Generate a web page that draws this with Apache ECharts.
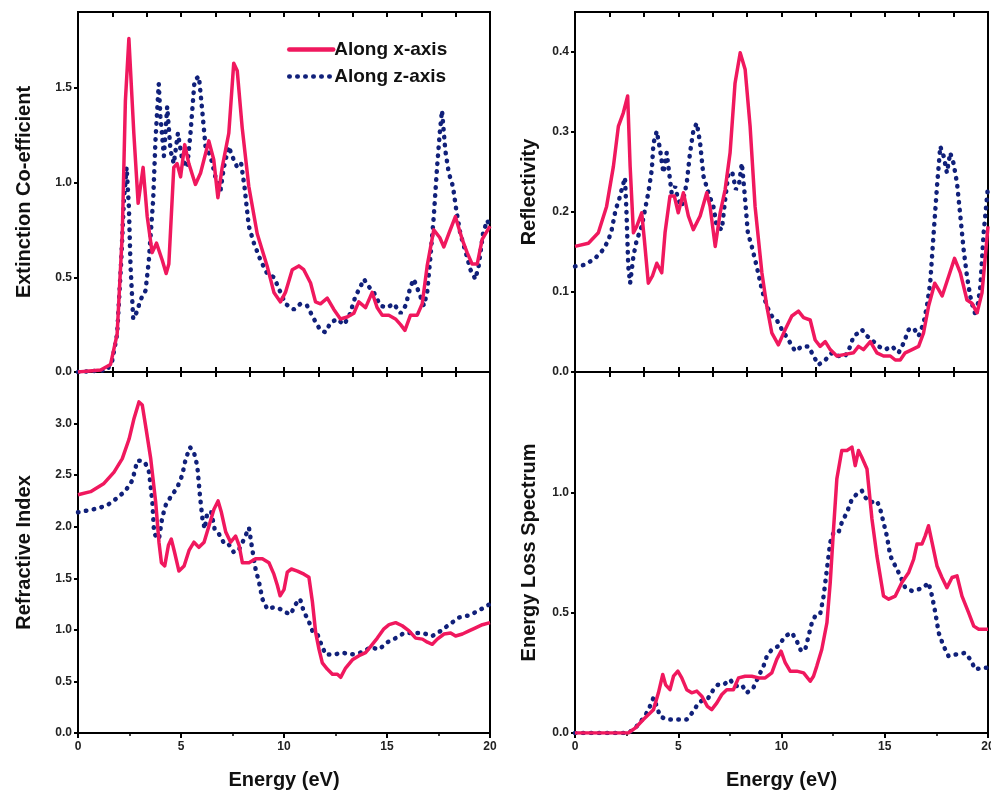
<!DOCTYPE html>
<html>
<head>
<meta charset="utf-8">
<script src="https://cdn.jsdelivr.net/npm/echarts@6/dist/echarts.min.js"></script>
<style>
  html, body { margin: 0; padding: 0; background: #fff; }
  #chart { width: 991px; height: 794px; }
</style>
</head>
<body>
<div id="chart"></div>
<script>
var chart = echarts.init(document.getElementById('chart'));
var option;

// Extinction co-efficient [energy eV, value]
const extX = [[0,0],[1.1,0.01],[1.58,0.04],[1.9,0.2],[2.15,0.73],[2.3,1.43],[2.47,1.76],[2.71,1.26],[2.92,0.89],[3.16,1.08],[3.36,0.82],[3.6,0.63],[3.81,0.68],[4.09,0.59],[4.28,0.52],[4.41,0.57],[4.65,1.08],[4.81,1.10],[4.98,1.03],[5.18,1.2],[5.38,1.10],[5.7,0.99],[5.95,1.05],[6.35,1.22],[6.59,1.12],[6.79,0.92],[7.0,1.08],[7.32,1.26],[7.56,1.63],[7.73,1.59],[7.97,1.29],[8.29,0.98],[8.7,0.73],[9.18,0.56],[9.51,0.42],[9.83,0.37],[10.07,0.42],[10.4,0.54],[10.72,0.56],[10.96,0.54],[11.29,0.47],[11.53,0.37],[11.77,0.36],[12.1,0.39],[12.42,0.33],[12.74,0.28],[13.07,0.29],[13.39,0.31],[13.63,0.37],[13.96,0.34],[14.28,0.42],[14.52,0.34],[14.77,0.30],[15.09,0.30],[15.41,0.28],[15.66,0.25],[15.87,0.22],[16.14,0.30],[16.47,0.30],[16.71,0.36],[16.95,0.56],[17.27,0.75],[17.56,0.71],[17.76,0.66],[18.0,0.73],[18.32,0.82],[18.65,0.70],[18.89,0.63],[19.13,0.57],[19.38,0.57],[19.62,0.70],[20,0.77]];
const extZ = [[0,0],[1.41,0.01],[1.66,0.06],[1.9,0.2],[2.1,0.59],[2.23,0.91],[2.36,1.08],[2.47,0.87],[2.55,0.56],[2.68,0.28],[2.87,0.32],[3.03,0.38],[3.28,0.43],[3.44,0.59],[3.65,0.91],[3.76,1.22],[3.92,1.52],[4.0,1.35],[4.17,1.14],[4.33,1.40],[4.49,1.17],[4.65,1.10],[4.85,1.26],[5.06,1.12],[5.3,1.08],[5.46,1.26],[5.66,1.54],[5.87,1.56],[6.03,1.38],[6.19,1.19],[6.43,1.14],[6.67,1.03],[6.92,0.96],[7.08,1.08],[7.32,1.19],[7.48,1.14],[7.73,1.08],[7.92,1.10],[8.08,0.98],[8.29,0.77],[8.54,0.68],[8.86,0.59],[9.18,0.52],[9.51,0.50],[9.83,0.42],[10.07,0.36],[10.48,0.33],[10.8,0.36],[11.12,0.35],[11.45,0.28],[11.77,0.22],[12.01,0.21],[12.26,0.26],[12.58,0.28],[12.9,0.25],[13.15,0.29],[13.47,0.40],[13.71,0.45],[13.88,0.49],[14.12,0.45],[14.36,0.42],[14.68,0.35],[15.0,0.34],[15.33,0.36],[15.66,0.31],[15.9,0.35],[16.14,0.45],[16.3,0.49],[16.55,0.42],[16.79,0.35],[16.95,0.42],[17.11,0.61],[17.27,0.82],[17.43,1.08],[17.56,1.26],[17.67,1.38],[17.83,1.17],[18.0,1.05],[18.2,0.98],[18.37,0.85],[18.56,0.73],[18.8,0.64],[19.05,0.54],[19.29,0.49],[19.45,0.56],[19.66,0.73],[19.86,0.80],[20,0.77]];

// Reflectivity
const refX = [[0,0.157],[0.65,0.161],[1.13,0.174],[1.53,0.207],[1.86,0.257],[2.1,0.307],[2.34,0.324],[2.55,0.345],[2.67,0.257],[2.83,0.174],[2.99,0.182],[3.23,0.199],[3.36,0.165],[3.55,0.111],[3.75,0.12],[3.96,0.136],[4.2,0.124],[4.36,0.174],[4.6,0.22],[4.81,0.22],[5.0,0.199],[5.25,0.224],[5.49,0.195],[5.73,0.178],[6.06,0.195],[6.38,0.224],[6.54,0.207],[6.79,0.157],[7.03,0.199],[7.27,0.228],[7.51,0.274],[7.75,0.361],[8.0,0.399],[8.24,0.378],[8.48,0.307],[8.72,0.207],[9.05,0.124],[9.29,0.082],[9.53,0.049],[9.85,0.034],[10.18,0.053],[10.5,0.07],[10.82,0.076],[11.07,0.068],[11.39,0.065],[11.63,0.04],[11.87,0.032],[12.12,0.038],[12.36,0.028],[12.68,0.02],[13.09,0.022],[13.49,0.024],[13.73,0.032],[13.97,0.028],[14.3,0.038],[14.62,0.024],[14.94,0.02],[15.27,0.02],[15.51,0.015],[15.75,0.015],[15.99,0.024],[16.32,0.028],[16.64,0.032],[16.88,0.049],[17.12,0.082],[17.42,0.111],[17.61,0.103],[17.78,0.095],[18.1,0.12],[18.38,0.142],[18.66,0.124],[18.98,0.09],[19.22,0.086],[19.47,0.074],[19.71,0.099],[20,0.182]];
const refZ = [[0,0.132],[0.48,0.134],[0.97,0.142],[1.37,0.153],[1.62,0.165],[1.78,0.178],[1.97,0.203],[2.13,0.215],[2.26,0.228],[2.42,0.243],[2.5,0.195],[2.58,0.132],[2.67,0.111],[2.83,0.145],[2.99,0.165],[3.23,0.182],[3.39,0.203],[3.55,0.224],[3.72,0.253],[3.8,0.286],[3.96,0.301],[4.12,0.278],[4.28,0.249],[4.44,0.274],[4.56,0.249],[4.68,0.224],[4.85,0.232],[5.0,0.215],[5.17,0.207],[5.41,0.236],[5.57,0.274],[5.74,0.303],[5.9,0.311],[6.06,0.286],[6.22,0.245],[6.46,0.224],[6.7,0.207],[6.87,0.182],[7.11,0.178],[7.27,0.215],[7.43,0.249],[7.62,0.249],[7.79,0.228],[7.95,0.236],[8.08,0.261],[8.21,0.224],[8.37,0.174],[8.56,0.157],[8.8,0.132],[9.05,0.103],[9.29,0.082],[9.53,0.07],[9.77,0.065],[10.02,0.053],[10.34,0.04],[10.66,0.026],[10.99,0.032],[11.31,0.032],[11.55,0.02],[11.79,0.009],[12.12,0.015],[12.44,0.024],[12.76,0.02],[13.09,0.02],[13.33,0.032],[13.49,0.045],[13.73,0.049],[13.89,0.053],[14.14,0.045],[14.38,0.04],[14.7,0.032],[15.02,0.028],[15.35,0.032],[15.67,0.024],[15.91,0.036],[16.16,0.053],[16.4,0.055],[16.64,0.045],[16.88,0.061],[17.04,0.082],[17.2,0.111],[17.37,0.174],[17.53,0.232],[17.69,0.282],[17.85,0.27],[18.01,0.249],[18.17,0.274],[18.33,0.261],[18.5,0.236],[18.66,0.195],[18.82,0.153],[18.98,0.12],[19.14,0.095],[19.3,0.078],[19.43,0.07],[19.63,0.107],[19.79,0.174],[20,0.232]];

// Refractive index
const nX = [[0,2.31],[0.61,2.34],[1.26,2.42],[1.75,2.53],[2.15,2.66],[2.48,2.85],[2.72,3.05],[2.96,3.21],[3.12,3.18],[3.28,2.98],[3.53,2.66],[3.77,2.24],[3.93,1.85],[4.05,1.65],[4.21,1.62],[4.39,1.82],[4.53,1.88],[4.69,1.75],[4.9,1.57],[5.15,1.62],[5.39,1.77],[5.63,1.85],[5.87,1.80],[6.12,1.85],[6.36,2.01],[6.6,2.17],[6.8,2.25],[6.96,2.14],[7.17,1.95],[7.41,1.85],[7.65,1.91],[7.82,1.82],[7.98,1.65],[8.3,1.65],[8.62,1.69],[8.95,1.69],[9.27,1.65],[9.51,1.54],[9.68,1.43],[9.81,1.33],[10.0,1.39],[10.16,1.56],[10.36,1.59],[10.65,1.57],[10.97,1.54],[11.21,1.51],[11.38,1.27],[11.54,0.97],[11.7,0.81],[11.86,0.68],[12.1,0.62],[12.35,0.57],[12.59,0.57],[12.75,0.54],[12.99,0.63],[13.32,0.71],[13.64,0.75],[13.96,0.78],[14.21,0.84],[14.53,0.92],[14.85,1.01],[15.1,1.05],[15.42,1.07],[15.74,1.04],[16.07,0.99],[16.39,0.92],[16.72,0.91],[16.96,0.88],[17.2,0.86],[17.44,0.91],[17.77,0.96],[18.09,0.97],[18.33,0.94],[18.66,0.96],[18.98,0.99],[19.3,1.02],[19.63,1.05],[20,1.07]];
const nZ = [[0,2.14],[0.53,2.16],[1.02,2.18],[1.5,2.22],[1.91,2.28],[2.31,2.35],[2.64,2.45],[2.88,2.64],[3.12,2.64],[3.28,2.61],[3.45,2.53],[3.61,2.24],[3.69,1.95],[3.77,1.91],[3.93,1.88],[4.09,2.09],[4.26,2.21],[4.5,2.29],[4.82,2.38],[5.06,2.50],[5.23,2.66],[5.44,2.77],[5.63,2.72],[5.79,2.59],[5.92,2.30],[6.04,2.08],[6.15,1.98],[6.28,2.14],[6.47,2.14],[6.63,1.98],[6.84,1.93],[7.06,1.85],[7.25,1.85],[7.41,1.80],[7.57,1.75],[7.82,1.78],[8.06,1.88],[8.3,1.99],[8.46,1.78],[8.62,1.59],[8.79,1.46],[8.95,1.30],[9.19,1.20],[9.51,1.22],[9.84,1.20],[10.08,1.17],[10.32,1.15],[10.57,1.25],[10.78,1.30],[10.97,1.17],[11.17,1.10],[11.38,0.99],[11.62,0.96],[11.81,0.86],[12.02,0.76],[12.43,0.76],[12.83,0.78],[13.24,0.76],[13.72,0.78],[14.21,0.83],[14.61,0.81],[15.02,0.88],[15.42,0.92],[15.83,0.97],[16.31,0.97],[16.72,0.97],[17.2,0.94],[17.61,0.99],[18.01,1.05],[18.5,1.12],[18.98,1.14],[19.39,1.18],[20,1.25]];

// Energy loss spectrum
const elsX = [[0,0],[2.58,0],[2.91,0.02],[3.31,0.056],[3.8,0.097],[4.04,0.167],[4.25,0.243],[4.39,0.2],[4.6,0.18],[4.77,0.236],[4.98,0.257],[5.17,0.229],[5.41,0.18],[5.65,0.167],[5.9,0.174],[6.14,0.153],[6.41,0.111],[6.62,0.097],[6.87,0.125],[7.11,0.16],[7.35,0.18],[7.67,0.18],[7.92,0.229],[8.24,0.236],[8.56,0.236],[8.89,0.229],[9.21,0.229],[9.53,0.25],[9.77,0.306],[9.98,0.34],[10.18,0.292],[10.42,0.257],[10.74,0.257],[11.07,0.25],[11.39,0.215],[11.55,0.236],[11.71,0.278],[11.95,0.347],[12.2,0.458],[12.36,0.625],[12.52,0.847],[12.68,1.056],[12.92,1.174],[13.17,1.174],[13.41,1.188],[13.57,1.111],[13.73,1.174],[13.89,1.146],[14.14,1.097],[14.38,0.889],[14.62,0.736],[14.94,0.569],[15.19,0.556],[15.51,0.569],[15.83,0.625],[16.16,0.667],[16.4,0.722],[16.56,0.785],[16.8,0.785],[16.96,0.819],[17.12,0.861],[17.29,0.792],[17.53,0.694],[17.77,0.646],[18.01,0.604],[18.26,0.646],[18.5,0.653],[18.74,0.569],[19.06,0.5],[19.31,0.444],[19.55,0.431],[20,0.431]];
const elsZ = [[0,0],[2.58,0],[2.91,0.02],[3.39,0.07],[3.63,0.111],[3.8,0.146],[3.96,0.111],[4.12,0.069],[4.44,0.056],[4.85,0.056],[5.41,0.056],[5.73,0.09],[5.98,0.125],[6.22,0.139],[6.46,0.146],[6.7,0.18],[6.91,0.2],[7.19,0.2],[7.51,0.222],[7.75,0.194],[8.08,0.2],[8.32,0.167],[8.64,0.188],[8.89,0.236],[9.13,0.278],[9.29,0.319],[9.53,0.347],[9.85,0.361],[10.18,0.403],[10.5,0.417],[10.74,0.382],[10.95,0.34],[11.15,0.347],[11.31,0.403],[11.47,0.458],[11.63,0.486],[11.87,0.493],[12.04,0.569],[12.2,0.681],[12.36,0.792],[12.52,0.833],[12.76,0.833],[12.92,0.875],[13.17,0.917],[13.41,0.972],[13.65,0.993],[13.89,1.007],[14.05,0.979],[14.3,0.958],[14.62,0.965],[14.78,0.931],[14.94,0.875],[15.1,0.819],[15.27,0.736],[15.51,0.694],[15.75,0.653],[15.99,0.604],[16.32,0.59],[16.64,0.597],[16.88,0.604],[17.12,0.625],[17.29,0.569],[17.45,0.5],[17.61,0.417],[17.85,0.361],[18.09,0.319],[18.42,0.326],[18.9,0.333],[19.14,0.306],[19.39,0.264],[19.71,0.271],[20,0.271]];

const yNames = ['Extinction Co-efficient', 'Reflectivity', 'Refractive Index', 'Energy Loss Spectrum'];
const yMax = [1.9, 0.45, 3.5, 1.5];
const yStep = [0.5, 0.1, 0.5, 0.5];
const xTicks = [0, 5, 10, 15, 20];

const RED = '#f0185e';
const BLUE = '#10207a';
const FONT = 'Liberation Sans';

var grids = [
  { left: 78, top: 12, width: 412, height: 360 },
  { left: 575, top: 12, width: 413, height: 360 },
  { left: 78, top: 372, width: 412, height: 361 },
  { left: 575, top: 372, width: 413, height: 361 }
].map(function (g) {
  return Object.assign({
    show: true, borderColor: '#000', borderWidth: 2, backgroundColor: 'transparent',
    containLabel: false, outerBoundsMode: 'none'
  }, g);
});

var xAxes = [];
var yAxes = [];
for (var i = 0; i < 4; i++) {
  var isBottom = i >= 2;
  // main (bottom) x axis
  xAxes.push({
    type: 'value', gridIndex: i, min: 0, max: 20,
    interval: isBottom ? 5 : 5 / 3,
    position: 'bottom',
    name: isBottom ? 'Energy (eV)' : '',
    nameLocation: 'middle', nameGap: 37,
    nameTextStyle: { fontFamily: FONT, fontWeight: 'bold', fontSize: 20, color: '#111' },
    axisLine: { lineStyle: { color: '#000', width: 2 } },
    axisTick: { show: true, inside: !isBottom, length: 5, lineStyle: { color: '#000', width: 2 } },
    minorTick: { show: isBottom, splitNumber: 2, length: 3, lineStyle: { color: '#000', width: 1.5 } },
    axisLabel: {
      show: isBottom, margin: 8, hideOverlap: false,
      fontFamily: FONT, fontWeight: 'bold', fontSize: 12, color: '#222',
      formatter: function (v) { return xTicks.indexOf(v) >= 0 ? String(v) : ''; }
    },
    splitLine: { show: false }
  });
  yAxes.push({
    type: 'value', gridIndex: i, min: 0, max: yMax[i], interval: yStep[i],
    name: yNames[i], nameLocation: 'middle',
    nameGap: (i % 2 === 0) ? 44 : 36,
    nameTextStyle: { fontFamily: FONT, fontWeight: 'bold', fontSize: 20, color: '#111' },
    axisLine: { lineStyle: { color: '#000', width: 2 } },
    axisTick: { show: true, inside: false, length: 4, lineStyle: { color: '#000', width: 2 } },
    axisLabel: {
      showMaxLabel: false, margin: 6,
      fontFamily: FONT, fontWeight: 'bold', fontSize: 12, color: '#222',
      formatter: function (v) { return v.toFixed(1); }
    },
    splitLine: { show: false }
  });
}
// top-edge tick axes
for (var j = 0; j < 4; j++) {
  xAxes.push({
    type: 'value', gridIndex: j, min: 0, max: 20, interval: 5 / 3,
    position: 'top',
    axisLine: { show: true, lineStyle: { color: '#000', width: 2 } },
    axisTick: { show: true, inside: true, length: 5, lineStyle: { color: '#000', width: 2 } },
    axisLabel: { show: false },
    splitLine: { show: false }
  });
}

function solid(name, data, idx) {
  return {
    name: name, type: 'line', data: data, xAxisIndex: idx, yAxisIndex: idx,
    symbol: 'none', z: 3, silent: true, animation: false,
    lineStyle: { color: RED, width: 3.5, join: 'round' },
    itemStyle: { color: RED }
  };
}
function dotted(name, data, idx) {
  return {
    name: name, type: 'line', data: data, xAxisIndex: idx, yAxisIndex: idx,
    symbol: 'none', z: 2, silent: true, animation: false,
    lineStyle: { color: BLUE, width: 4.5, type: [0.5, 7.5], cap: 'round' },
    itemStyle: { color: BLUE }
  };
}

option = {
  backgroundColor: '#fff',
  animation: false,
  grid: grids,
  xAxis: xAxes,
  yAxis: yAxes,
  legend: {
    show: true, orient: 'vertical', left: 282, top: 35,
    itemWidth: 44, itemHeight: 14, itemGap: 8,
    itemStyle: { opacity: 0 },
    lineStyle: { width: 4.5, cap: 'round' },
    data: ['Along x-axis', 'Along z-axis'],
    textStyle: { fontFamily: FONT, fontWeight: 'bold', fontSize: 19, color: '#111', padding: [0, 0, 0, -4] }
  },
  series: [
    dotted('Along z-axis', extZ, 0),
    solid('Along x-axis', extX, 0),
    dotted('Along z-axis', refZ, 1),
    solid('Along x-axis', refX, 1),
    dotted('Along z-axis', nZ, 2),
    solid('Along x-axis', nX, 2),
    dotted('Along z-axis', elsZ, 3),
    solid('Along x-axis', elsX, 3)
  ]
};

option && chart.setOption(option);
</script>
</body>
</html>
